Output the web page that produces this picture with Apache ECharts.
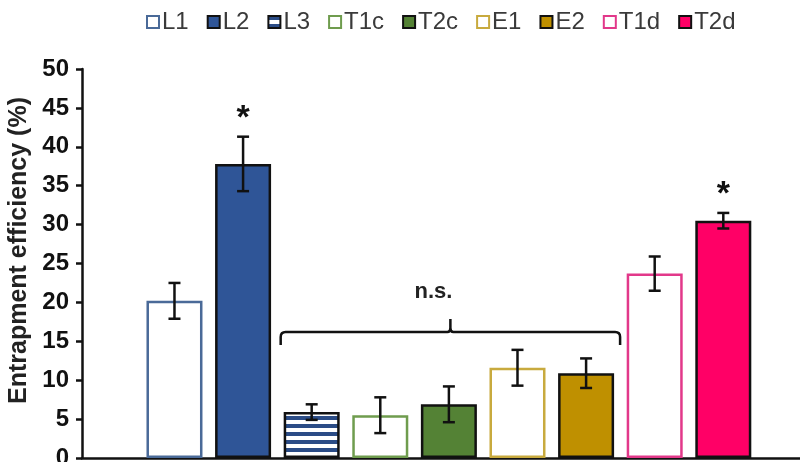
<!DOCTYPE html>
<html>
<head>
<meta charset="utf-8">
<script src="https://cdn.jsdelivr.net/npm/echarts@6/dist/echarts.min.js"></script>
<style>
  html, body { margin: 0; padding: 0; background: #fff; }
  #chart { width: 800px; height: 462px; }
</style>
</head>
<body>
<div id="chart"></div>
<script>
// Formulations and their entrapment efficiency (%), mean and error
const categories = ['L1', 'L2', 'L3', 'T1c', 'T2c', 'E1', 'E2', 'T1d', 'T2d'];
const means      = [20.2, 37.8, 5.9, 5.5, 6.9, 11.6, 10.9, 23.7, 30.5];
const errors     = [2.3, 3.5, 1.0, 2.3, 2.3, 2.3, 1.9, 2.2, 1.0];
const significance = ['', '*', '', '', '', '', '', '', '*'];
// Non-significant group bracket
const nsFrom = 'L3';
const nsTo = 'E2';
const nsLevel = 16.2;
const nsLabel = 'n.s.';
const yTicks = [0, 5, 10, 15, 20, 25, 30, 35, 40, 45, 50];

// Horizontal stripe fill for L3
function stripePattern() {
  const c = document.createElement('canvas');
  c.width = 8; c.height = 8;
  const g = c.getContext('2d');
  g.fillStyle = '#ffffff'; g.fillRect(0, 0, 8, 8);
  g.fillStyle = '#2b4c86'; g.fillRect(0, 0, 8, 4);
  return c;
}

const styles = {
  L1:  { color: '#ffffff', borderColor: '#4a6a98' },
  L2:  { color: '#2f5597', borderColor: '#111111' },
  L3:  { color: { image: stripePattern(), repeat: 'repeat' }, borderColor: '#111111' },
  T1c: { color: '#ffffff', borderColor: '#6f9c4e' },
  T2c: { color: '#548235', borderColor: '#111111' },
  E1:  { color: '#ffffff', borderColor: '#c8aa3e' },
  E2:  { color: '#bf9000', borderColor: '#111111' },
  T1d: { color: '#ffffff', borderColor: '#e2388a' },
  T2d: { color: '#ff0066', borderColor: '#111111' }
};

const FONT = '"Liberation Sans", Arial, sans-serif';

const barSeries = categories.map((name, i) => ({
  name: name,
  type: 'bar',
  barWidth: 56,
  barGap: '-100%',
  data: [[i + 1, means[i]]],
  itemStyle: Object.assign({ borderWidth: 2.5 }, styles[name]),
  emphasis: { disabled: true },
  animation: false,
  z: 2
}));

const errorData = categories.map((_, i) => [i + 1, means[i] - errors[i], means[i] + errors[i]]);

const errorSeries = {
  type: 'custom',
  data: errorData,
  animation: false,
  silent: true,
  z: 5,
  renderItem: function (params, api) {
    const x = api.value(0);
    const lo = api.coord([x, api.value(1)]);
    const hi = api.coord([x, api.value(2)]);
    const cap = 6;
    const st = { stroke: '#111111', lineWidth: 2.5 };
    const children = [
      { type: 'line', shape: { x1: lo[0], y1: lo[1], x2: hi[0], y2: hi[1] }, style: st },
      { type: 'line', shape: { x1: lo[0] - cap, y1: lo[1], x2: lo[0] + cap, y2: lo[1] }, style: st },
      { type: 'line', shape: { x1: hi[0] - cap, y1: hi[1], x2: hi[0] + cap, y2: hi[1] }, style: st }
    ];
    const mark = significance[params.dataIndex];
    if (mark) {
      children.push({
        type: 'text',
        style: {
          text: mark, x: hi[0], y: hi[1] - 18,
          align: 'center', verticalAlign: 'middle',
          font: 'bold 34px ' + FONT, fill: '#111111'
        }
      });
    }
    return { type: 'group', children: children };
  }
};

const bracketSeries = {
  type: 'custom',
  data: [[categories.indexOf(nsFrom) + 1, categories.indexOf(nsTo) + 1, nsLevel]],
  animation: false,
  silent: true,
  z: 5,
  renderItem: function (params, api) {
    const a = api.coord([api.value(0), api.value(2)]);
    const b = api.coord([api.value(1), api.value(2)]);
    const x0 = a[0] - 31, x1 = b[0] + 34, y = a[1];
    const xm = (x0 + x1) / 2;
    const r = 5, d = 13;
    const path =
      'M' + x0 + ' ' + (y + d) +
      ' L' + x0 + ' ' + (y + r) +
      ' Q' + x0 + ' ' + y + ' ' + (x0 + r) + ' ' + y +
      ' L' + (xm - 3) + ' ' + y +
      ' Q' + xm + ' ' + y + ' ' + xm + ' ' + (y - 4) +
      ' L' + xm + ' ' + (y - d) +
      ' M' + xm + ' ' + (y - 4) +
      ' Q' + xm + ' ' + y + ' ' + (xm + 3) + ' ' + y +
      ' L' + (x1 - r) + ' ' + y +
      ' Q' + x1 + ' ' + y + ' ' + x1 + ' ' + (y + r) +
      ' L' + x1 + ' ' + (y + d);
    return {
      type: 'group',
      children: [
        { type: 'path', shape: { pathData: path }, style: { stroke: '#111111', lineWidth: 2.5, fill: null } },
        { type: 'text', style: {
            text: nsLabel, x: xm - 17, y: y - 40,
            align: 'center', verticalAlign: 'middle',
            font: 'bold 22px ' + FONT, fill: '#222222' } }
      ]
    };
  }
};

const chart = echarts.init(document.getElementById('chart'), null, { renderer: 'canvas' });
chart.setOption({
  animation: false,
  backgroundColor: '#ffffff',
  textStyle: { fontFamily: FONT },
  legend: {
    data: categories,
    top: 5,
    left: 141,
    icon: 'rect',
    itemWidth: 12,
    itemHeight: 12,
    itemGap: 18,
    itemStyle: { borderWidth: 2 },
    textStyle: { fontSize: 24, color: '#3a3a3a', fontFamily: FONT, padding: [0, 0, 0, -2] },
    selectedMode: false
  },
  grid: { left: 82, right: 0, top: 69, bottom: 4, outerBoundsMode: 'none', containLabel: false },
  xAxis: {
    type: 'value',
    min: -0.348,
    max: 10.118,
    axisLine: { show: true, onZero: false, lineStyle: { color: '#111111', width: 2.5 } },
    axisTick: { show: false },
    axisLabel: { show: false },
    splitLine: { show: false }
  },
  yAxis: {
    type: 'value',
    min: yTicks[0],
    max: yTicks[yTicks.length - 1],
    interval: yTicks[1] - yTicks[0],
    name: 'Entrapment efficiency (%)',
    nameLocation: 'middle',
    nameGap: 48,
    nameTextStyle: { fontSize: 25, fontWeight: 'bold', color: '#222222', fontFamily: FONT, padding: [0, 0, 0, 26] },
    axisLine: { show: true, onZero: false, lineStyle: { color: '#111111', width: 2.5 } },
    axisTick: { show: true, inside: false, length: 6, lineStyle: { color: '#111111', width: 2.5 } },
    axisLabel: { fontSize: 24, fontWeight: 'bold', color: '#111111', margin: 13, fontFamily: FONT },
    splitLine: { show: false }
  },
  series: barSeries.concat([errorSeries, bracketSeries])
});
</script>
</body>
</html>
